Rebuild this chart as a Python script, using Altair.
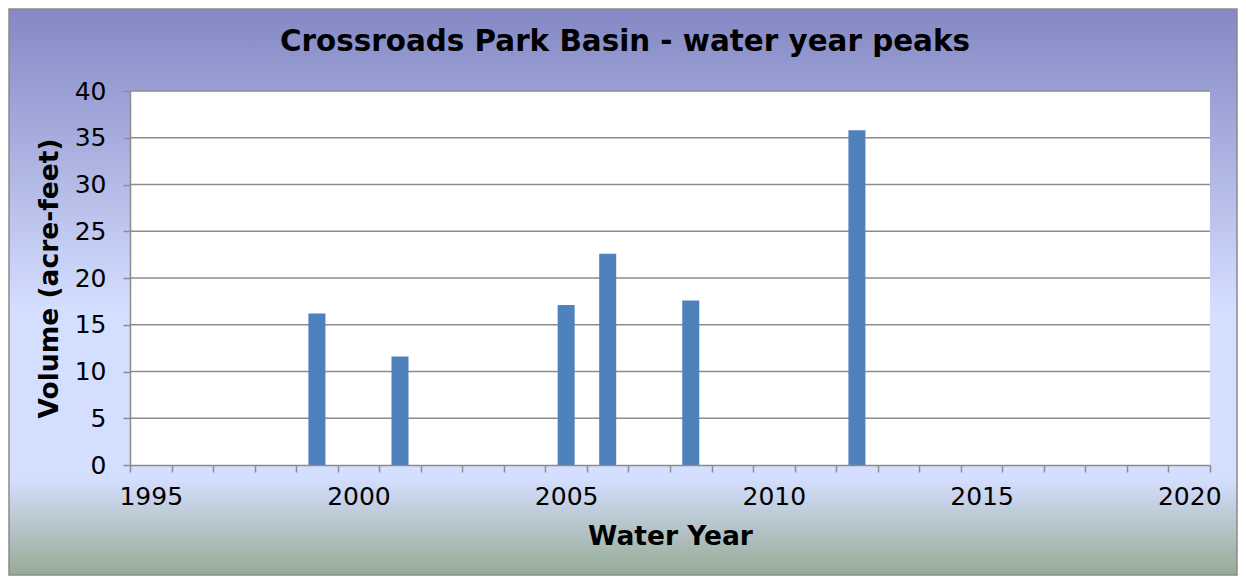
import altair as alt
import pandas as pd

# ---- data ----
years = [1999, 2001, 2005, 2006, 2008, 2012]
volumes = [16.2, 11.6, 17.1, 22.6, 17.6, 35.8]
year_domain = list(range(1995, 2021))
y_ticks = [0, 5, 10, 15, 20, 25, 30, 35, 40]
grid_values = [5, 10, 15, 20, 25, 30, 35, 40]

W, H = 1080, 374
PAD = dict(left=122, top=83, right=28, bottom=111)
FONT = "DejaVu Sans"
GRID = "#8c8c8c"

bars_df = pd.DataFrame({"year": years, "volume": volumes})
grid_df = pd.DataFrame({"volume": grid_values})
one = pd.DataFrame({"k": [0]})

y_axis = alt.Axis(
    title="Volume (acre-feet)",
    values=y_ticks,
    tickSize=7,
    tickColor=GRID,
    tickWidth=1.5,
    domainColor=GRID,
    domainWidth=1.5,
    labelFont=FONT,
    labelFontSize=25,
    labelColor="black",
    labelPadding=17,
    titleFont=FONT,
    titleFontSize=26.5,
    titleFontWeight="bold",
    titleColor="black",
    titlePadding=11,
    grid=False,
    zindex=1,
)
y_scale = alt.Scale(domain=[0, 40])

bg = alt.Chart(one).mark_rect(
    fill=alt.Gradient(
        gradient="linear", x1=0, y1=0, x2=0, y2=1,
        stops=[
            alt.GradientStop(offset=0, color="#8488C4"),
            alt.GradientStop(offset=0.53, color="#D4DEFF"),
            alt.GradientStop(offset=0.83, color="#D4DEFF"),
            alt.GradientStop(offset=1, color="#96AB94"),
        ],
    ),
    stroke="#8a8a8a",
    strokeWidth=1.5,
).encode(
    x=alt.value(-PAD["left"] + 1),
    x2=alt.value(W + PAD["right"] - 1),
    y=alt.value(-PAD["top"] + 1),
    y2=alt.value(H + PAD["bottom"] - 1),
)

plot_bg = alt.Chart(one).mark_rect(fill="white").encode(
    x=alt.value(0), x2=alt.value(W), y=alt.value(0), y2=alt.value(H)
)

grid = alt.Chart(grid_df).mark_rule(color=GRID, strokeWidth=1.5).encode(
    y=alt.Y("volume:Q", scale=y_scale, axis=y_axis),
    x=alt.value(0),
    x2=alt.value(W),
)

bars = alt.Chart(bars_df).mark_bar(
    color="#4F81BD", width=alt.RelativeBandSize(band=0.41)
).encode(
    x=alt.X(
        "year:O",
        scale=alt.Scale(domain=year_domain, paddingInner=0, paddingOuter=0),
        axis=alt.Axis(
            title="Water Year",
            labelExpr="datum.value % 5 == 0 ? datum.label : ''",
            labelAngle=0,
            labelOverlap=False,
            tickBand="extent",
            tickSize=7,
            tickColor=GRID,
            tickWidth=1.5,
            domainColor=GRID,
            domainWidth=1.5,
            labelFont=FONT,
            labelFontSize=25,
            labelColor="black",
            labelPadding=12,
            titleFont=FONT,
            titleFontSize=26.5,
            titleFontWeight="bold",
            titleColor="black",
            titlePadding=14,
            grid=False,
            zindex=1,
        ),
    ),
    y=alt.Y("volume:Q", scale=y_scale, axis=y_axis),
)

chart = alt.layer(bg, plot_bg, grid, bars).properties(
    width=W,
    height=H,
    padding=PAD,
    autosize="none",
    title=alt.TitleParams(
        text="Crossroads Park Basin - water year peaks",
        font=FONT,
        fontSize=29.4,
        fontWeight="bold",
        color="black",
        anchor="middle",
        frame="group",
        dx=-45,
        offset=-49,
    ),
).configure_view(stroke="transparent")

chart.save("out.html", embed_options={"renderer": "svg", "actions": False})
